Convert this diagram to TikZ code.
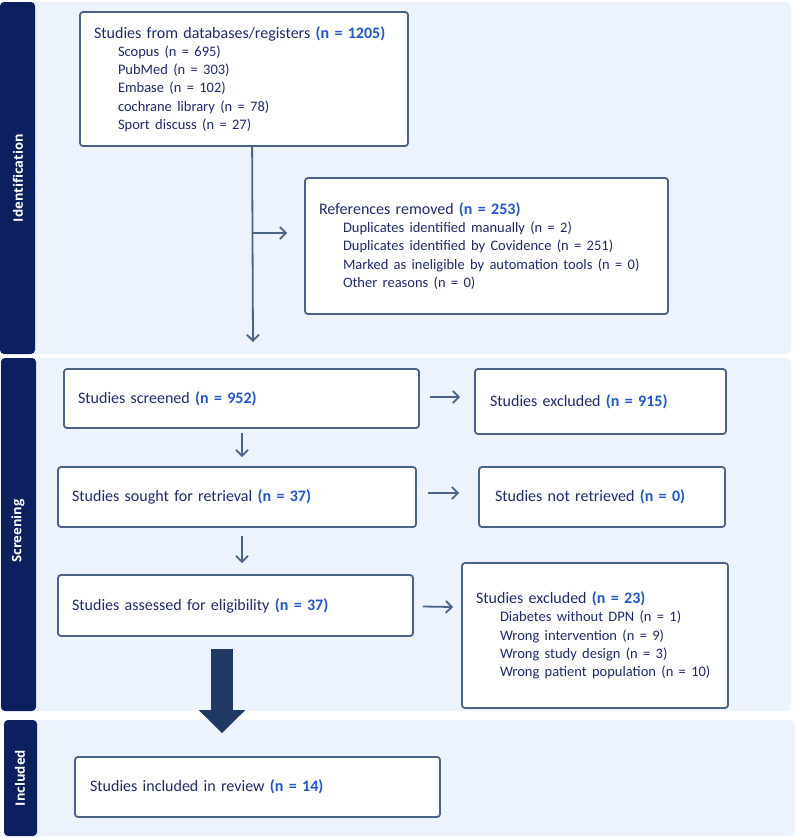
\documentclass[tikz,border=0pt]{standalone}
\usepackage{fontspec}
\setmainfont{Carlito}
\newfontfamily\sidefont{Open Sans}
\usetikzlibrary{arrows.meta,calc}
\definecolor{sidebar}{HTML}{0C1F5E}
\definecolor{panel}{HTML}{EDF3FC}
\definecolor{boxline}{HTML}{4B6389}
\definecolor{txt}{HTML}{1F2A6E}
\definecolor{nblue}{HTML}{1F55D6}
\definecolor{bigarrow}{HTML}{1F3864}
\newcommand{\nn}[1]{\textbf{\color{nblue}#1}}
\newcommand{\sub}[1]{\hspace*{24pt}{\fontsize{14.5}{18.3}\selectfont #1}}
\begin{document}
\begin{tikzpicture}[x=1pt,y=-1pt,
  panelbg/.style={fill=panel,rounded corners=5pt},
  sidebg/.style={fill=sidebar,rounded corners=4pt},
  sidelabel/.style={rotate=90,text=white,font=\sidefont\bfseries\fontsize{13}{14}\selectfont},
  box/.style={draw=boxline,line width=1.8pt,fill=white,rounded corners=3pt,
    inner xsep=14pt,inner ysep=0pt,align=left,text=txt,
    font=\fontsize{16}{18.3}\selectfont},
  arr/.style={draw=boxline,line width=1.8pt,-{Straight Barb[length=6pt,width=12pt]}},
  bigarr/.style={draw=bigarrow,line width=22pt,-{Triangle[width=45pt,length=23pt]}}
]
\useasboundingbox (0,0) rectangle (797,838);
% panels
\fill[panelbg] (0,2) rectangle (791,354);
\fill[sidebg] (0,2) rectangle (35,354);
\fill[panelbg] (0,358) rectangle (791,711);
\fill[sidebg] (1,358) rectangle (36,711);
\fill[panelbg] (4,720) rectangle (795,836);
\fill[sidebg] (4,720) rectangle (37,836);
\node[sidelabel] (lid) at (18,178) {Identification};
\node[sidelabel] (lsc) at (18,531) {Screening};
\node[sidelabel] (lin) at (20,778) {Included};
% boxes
\node[box,minimum width=328pt,minimum height=134pt,text width=300pt] (src) at (244,79)
 {Studies from databases/registers \nn{(n = 1205)}\\
  \sub{Scopus (n = 695)}\\
  \sub{PubMed (n = 303)}\\
  \sub{Embase (n = 102)}\\
  \sub{cochrane library (n = 78)}\\
  \sub{Sport discuss (n = 27)}};
\node[box,minimum width=363pt,minimum height=136pt,text width=335pt] (rem) at (486.5,246)
 {References removed \nn{(n = 253)}\\
  \sub{Duplicates identified manually (n = 2)}\\
  \sub{Duplicates identified by Covidence (n = 251)}\\
  \sub{Marked as ineligible by automation tools (n = 0)}\\
  \sub{Other reasons (n = 0)}};
\node[box,minimum width=355pt,minimum height=59pt,text width=327pt] (scr) at (241.5,398.5)
 {Studies screened \nn{(n = 952)}};
\node[box,minimum width=251pt,minimum height=65pt,text width=221pt,inner xsep=15pt] (exa) at (600.5,401.5)
 {Studies excluded \nn{(n = 915)}};
\node[box,minimum width=358pt,minimum height=60pt,text width=330pt] (ret) at (237,497)
 {Studies sought for retrieval \nn{(n = 37)}};
\node[box,minimum width=246pt,minimum height=60pt,text width=214pt,inner xsep=16pt] (nret) at (602,497)
 {Studies not retrieved \nn{(n = 0)}};
\node[box,minimum width=355pt,minimum height=61pt,text width=327pt] (elig) at (235.5,605.5)
 {Studies assessed for eligibility \nn{(n = 37)}};
\node[box,minimum width=266pt,minimum height=145pt,text width=238pt,inner xsep=14pt] (exb) at (595,635.5)
 {Studies excluded \nn{(n = 23)}\\
  \sub{Diabetes without DPN (n = 1)}\\
  \sub{Wrong intervention (n = 9)}\\
  \sub{Wrong study design (n = 3)}\\
  \sub{Wrong patient population (n = 10)}};
\node[box,minimum width=365pt,minimum height=60pt,text width=335pt,inner xsep=15pt] (inc) at (257.5,787)
 {Studies included in review \nn{(n = 14)}};
% connector end points
\coordinate (top) at ($(src.south west)+(173,0)$);
\coordinate (down) at (253,342);
\coordinate (branch) at (253,233);
\coordinate (a1s) at ($(scr.east)+(10,-1.5)$);
\coordinate (a1e) at ($(exa.west)+(-14,-4.5)$);
\coordinate (a2s) at ($(ret.east)+(11,-4)$);
\coordinate (a2e) at ($(nret.west)+(-19,-4)$);
\coordinate (a3s) at ($(elig.east)+(9,1)$);
\coordinate (a3e) at ($(exb.west)+(-8,-28.5)$);
\coordinate (d1s) at ($(scr.south)+(0.5,4)$);
\coordinate (d1e) at ($(ret.north)+(5,-9)$);
\coordinate (d2s) at ($(ret.south)+(5,8)$);
\coordinate (d2e) at ($(elig.north)+(6.5,-11)$);
\coordinate (bs) at ($(elig.south)+(-13.5,12)$);
\coordinate (be) at ($(inc.north)+(-35.5,-23)$);
% connectors
\draw[arr] (top) -- (down);
\draw[arr] (branch) -- ($(rem.west |- branch)+(-17,0)$);
\draw[arr] (a1s) -- (a1e);
\draw[arr] (a2s) -- (a2e);
\draw[arr] (a3s) -- (a3e);
\draw[arr] (d1s) -- (d1e);
\draw[arr] (d2s) -- (d2e);
\draw[bigarr] (bs) -- (be);
\end{tikzpicture}
\end{document}
